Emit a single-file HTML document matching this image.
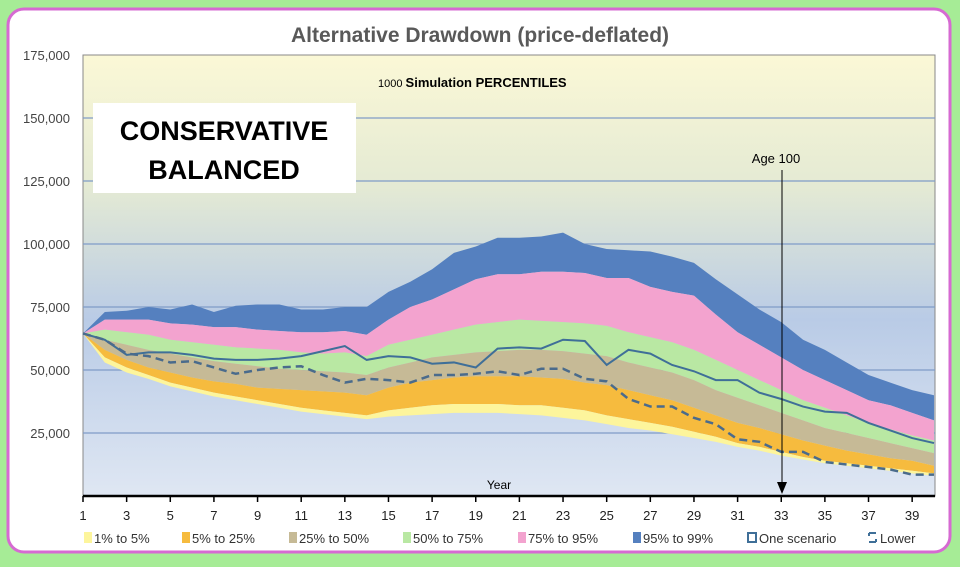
<!DOCTYPE html>
<html><head><meta charset="utf-8"><style>
body{margin:0;background:#a6ec96;width:960px;height:562px;overflow:hidden;font-family:"Liberation Sans",sans-serif}
</style></head><body>
<svg id="s" width="960" height="562" xmlns="http://www.w3.org/2000/svg">
<defs><linearGradient id="bg" x1="0" y1="0" x2="0" y2="1">
<stop offset="0" stop-color="#fbf8d6"/><stop offset="0.3" stop-color="#e4ead4"/><stop offset="0.6" stop-color="#b9cbe6"/><stop offset="1" stop-color="#dfe7f3"/></linearGradient></defs>
<rect x="8" y="9" width="942" height="543" rx="16" fill="#fff" stroke="#d66ad2" stroke-width="3"/>
<text x="480" y="42" text-anchor="middle" font-size="21" font-weight="bold" fill="#595959">Alternative Drawdown (price-deflated)</text>
<rect x="83" y="55" width="852" height="441" fill="url(#bg)" stroke="#888" stroke-width="1"/>
<g id="g"></g>
<rect x="93" y="103" width="263" height="90" fill="#fff"/>
<text x="224" y="140" text-anchor="middle" font-size="27" font-weight="bold">CONSERVATIVE</text>
<text x="224" y="179" text-anchor="middle" font-size="27" font-weight="bold">BALANCED</text>
<text x="378" y="87" font-size="11">1000 <tspan font-size="13" font-weight="bold">Simulation  PERCENTILES</tspan></text>
<text x="776" y="163" text-anchor="middle" font-size="13">Age 100</text>
<line x1="782" y1="170" x2="782" y2="482" stroke="#000" stroke-width="1"/>
<polygon points="777,482 787,482 782,494" fill="#000"/>
<text x="499" y="489" text-anchor="middle" font-size="12">Year</text>
</svg>
<script>
const P=[
[64.5,73,73.5,75,74,76,73,75.5,76,76,74,74,75,75,81,85,90,96.5,99,102.5,102.5,103,104.5,100,98,97.5,97,95,92.5,86,80,74,69,62,58,53,48,45,42,40],
[64.5,70,70,70,68.5,68,67,67,66,65.5,65,65,65.5,64,70,75,78,82,86,88,88,89,89,88.5,86.5,86.5,83,81,79.5,72,65,60,55,50,46,42,38,36,33,30],
[64.5,66,65,64,62,61,60,59,58.5,58,57,56.5,57,55.5,60,62,64,66,68,69,70,69.5,69,68.5,67.5,65,63,61,58,54,50,46,42,38,35,32,29,26.5,24,22],
[64.5,62,60,58,56.5,55,53.5,52.5,51.5,50.5,50,49.5,49,48,51,53,55,56,57,57.5,58,58,57.5,56.5,55.5,53,51,49,46,42,39,36,33,30,27,25,23,21,19,17],
[64.5,58,54,51,49,47,45.5,44.5,43,42.5,42,41.5,41,40,43,45,46,47,47.5,47.5,47.5,47,46.5,45,44,42,40,38,35,32,29,27,24.5,22,20,18,16.5,15,14,12],
[64.5,55,51,48,45,43,41,39.5,38,36.5,35,34,33,32,34,35,36,36.5,36.5,36.5,36,36,35,34,32,30.5,29,27.5,25.5,23.5,21,19.5,17.5,15.5,14,13,12,11,10,9],
[64.5,53,49,46.5,43.5,41.5,39.5,38,36.5,35,33.5,32.5,31.5,30.5,31.5,32,32.5,33,33,33,32.5,32,31,30,28.5,27,26,24.5,23,21.5,19.5,18,16,14.5,13,12,11,10,9,8]];
const one=[64.5,62,56,57,57,56,54.5,54,54,54.5,55.5,57.5,59.5,54,55.5,55,52.5,53,51,58.5,59,58.5,62,61.5,52,58,56.5,52,49.5,46,46,41,38.5,35.5,33.5,33,29,26,23,21];
const low=[64.5,62,56.5,55.5,53,53.5,51,48.5,50,51,51.5,48,45,46.5,46,45,48,48,48.5,49.5,48,50.5,50.5,46.5,45.5,38.5,35.5,35.5,31,28.5,22.5,21.5,17.5,17.5,13.5,12.5,11.5,10.5,8.5,8.5];
const cols=["#5580bf","#f3a3cf","#b9e8a3","#c6ba96","#f6bb3e","#fdf59c"];
const X=i=>83+i*21.82, Y=v=>496-v*2.52;
let h='';
for(let k=1;k<=6;k++){h+=`<line x1="83" x2="935" y1="${Y(k*25)}" y2="${Y(k*25)}" stroke="#7f9cc8" stroke-width="1.3"/>`;}
for(let b=0;b<6;b++){let a=P[b],c=P[b+1],pts=a.map((v,i)=>X(i)+','+Y(v));for(let i=39;i>=0;i--)pts.push(X(i)+','+Y(c[i]));h+=`<polygon points="${pts.join(' ')}" fill="${cols[b]}"/>`;}
h+=`<polyline points="${one.map((v,i)=>X(i)+','+Y(v)).join(' ')}" fill="none" stroke="#3f6f98" stroke-width="2"/>`;
h+=`<polyline points="${low.map((v,i)=>X(i)+','+Y(v)).join(' ')}" fill="none" stroke="#4a6b8c" stroke-width="2.5" stroke-dasharray="8,5"/>`;
h+=`<line x1="83" x2="935" y1="496" y2="496" stroke="#000" stroke-width="2.5"/>`;
for(let i=0;i<40;i+=2){h+=`<line x1="${X(i)}" x2="${X(i)}" y1="496" y2="502" stroke="#000" stroke-width="1.5"/><text x="${X(i)}" y="520" text-anchor="middle" font-size="13" fill="#222">${i+1}</text>`;}
const yl=['25,000','50,000','75,000','100,000','125,000','150,000','175,000'];
yl.forEach((t,k)=>{h+=`<text x="70" y="${Y((k+1)*25)+5}" text-anchor="end" font-size="13" fill="#444">${t}</text>`});
const lg=[["1% to 5%","#fdf59c",84],["5% to 25%","#f6bb3e",182],["25% to 50%","#c6ba96",289],["50% to 75%","#b9e8a3",403],["75% to 95%","#f3a3cf",518],["95% to 99%","#5580bf",633]];
lg.forEach(([t,c,x])=>{h+=`<rect x="${x}" y="532" width="8" height="11" fill="${c}"/><text x="${x+10}" y="543" font-size="13" fill="#333">${t}</text>`});
h+=`<rect x="748" y="533" width="8" height="9" fill="none" stroke="#3f6f98" stroke-width="2"/><text x="759" y="543" font-size="13" fill="#333">One scenario</text>`;
h+=`<path d="M869 533h7M869 542h7M869 533v3M876 539v3" stroke="#3f6f98" stroke-width="2" fill="none"/><text x="880" y="543" font-size="13" fill="#333">Lower</text>`;
document.getElementById('g').innerHTML=h;
</script>
</body></html>
